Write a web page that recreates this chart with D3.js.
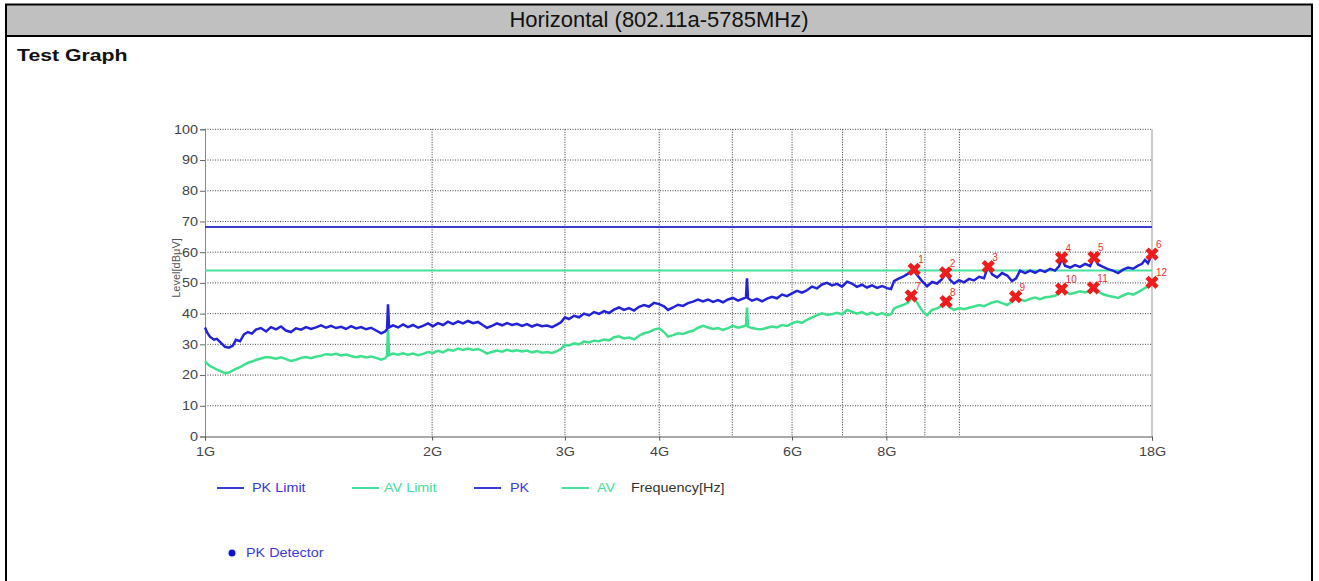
<!DOCTYPE html>
<html><head><meta charset="utf-8">
<script src="https://cdn.jsdelivr.net/npm/d3@7"></script>
<style>
html,body{margin:0;padding:0;background:#fff;}
svg{display:block;}
text{font-family:"Liberation Sans",Arial,sans-serif;}
</style></head>
<body>
<svg id="c" width="1319" height="581"></svg>
<script>
// ---- data (GHz, dBuV) ----
const freqs = [1.000,1.006,1.015,1.028,1.037,1.050,1.063,1.076,1.089,1.099,1.113,1.126,1.140,1.154,1.168,1.186,1.205,1.223,1.242,1.261,1.280,1.300,1.320,1.341,1.361,1.382,1.403,1.425,1.447,1.469,1.492,1.515,1.538,1.562,1.586,1.610,1.635,1.660,1.686,1.712,1.733,1.743,1.748,1.754,1.775,1.803,1.830,1.858,1.887,1.916,1.945,1.975,2.005,2.036,2.068,2.099,2.132,2.165,2.198,2.232,2.266,2.301,2.336,2.365,2.401,2.438,2.476,2.514,2.553,2.592,2.632,2.672,2.713,2.755,2.797,2.840,2.884,2.928,2.964,3.000,3.037,3.084,3.132,3.180,3.228,3.278,3.329,3.380,3.432,3.484,3.538,3.592,3.648,3.704,3.761,3.819,3.877,3.937,3.998,4.059,4.109,4.173,4.236,4.301,4.368,4.435,4.503,4.572,4.643,4.714,4.786,4.860,4.934,5.010,5.087,5.165,5.213,5.229,5.245,5.310,5.392,5.474,5.559,5.644,5.731,5.819,5.908,5.999,6.091,6.185,6.280,6.376,6.474,6.574,6.675,6.778,6.882,6.989,7.097,7.203,7.314,7.427,7.541,7.659,7.777,7.897,8.017,8.116,8.191,8.292,8.419,8.549,8.680,8.814,8.922,9.059,9.199,9.339,9.482,9.599,9.716,9.836,9.988,10.14,10.30,10.45,10.62,10.78,10.91,11.05,11.22,11.39,11.57,11.74,11.89,12.03,12.22,12.41,12.60,12.79,12.99,13.19,13.39,13.55,13.68,13.80,14.02,14.23,14.45,14.68,14.90,15.08,15.27,15.50,15.74,15.98,16.23,16.48,16.73,16.99,17.25,17.46,17.62,17.78,18.00];
const pk = [35.5,34.0,32.5,31.5,31.8,30.5,29.2,28.9,29.6,31.5,31.0,33.2,34.0,33.5,34.8,35.3,34.2,35.6,34.9,35.8,34.5,34.0,35.2,34.8,35.6,35.0,35.5,36.2,35.4,36.0,35.3,35.7,35.0,35.9,35.2,35.6,34.9,35.4,34.5,33.6,34.2,35.0,43.0,35.5,36.2,35.5,36.5,35.6,36.3,35.4,36.0,36.8,35.9,36.9,36.3,37.4,36.6,37.5,36.8,37.6,36.9,37.3,36.2,35.4,36.0,36.8,36.2,36.9,36.3,36.7,36.0,36.6,35.8,36.4,35.9,36.1,35.6,36.4,37.2,38.8,38.2,39.3,38.8,40.0,39.4,40.5,39.9,40.8,40.2,41.3,42.0,41.2,41.8,41.0,42.2,42.8,42.3,43.5,43.1,42.4,41.2,42.0,42.9,42.5,43.4,43.9,44.6,44.0,44.6,43.8,44.4,43.7,44.6,45.1,44.2,44.9,45.3,51.5,45.0,44.2,44.8,44.0,44.9,45.5,45.0,46.2,45.7,46.6,47.4,46.8,47.6,48.8,48.2,49.5,50.0,49.2,49.7,48.8,50.4,49.8,48.7,49.4,48.5,49.2,48.4,49.0,48.3,48.0,50.6,51.3,52.0,53.0,54.4,52.2,50.6,48.9,50.3,49.8,51.2,53.3,51.0,49.8,50.9,50.2,51.3,50.8,52.0,51.5,55.3,52.8,51.8,53.2,52.4,50.6,51.5,54.0,53.2,54.0,53.3,54.2,53.6,54.6,54.0,55.4,58.0,55.6,55.0,55.8,55.2,56.2,55.5,58.3,56.0,55.2,54.5,54.0,53.2,54.3,55.0,54.6,55.6,56.2,57.5,56.4,59.4];
const av = [24.5,23.8,23.0,22.3,21.8,21.2,20.6,20.8,21.5,22.0,22.6,23.3,24.0,24.4,24.9,25.4,25.9,25.7,25.3,25.8,25.2,24.6,25.0,25.6,25.9,25.5,26.0,26.3,26.8,26.6,26.9,26.4,26.7,26.2,25.8,26.2,25.7,26.0,25.6,25.0,25.5,26.3,34.7,26.5,27.0,26.6,27.1,26.6,27.0,26.5,26.9,27.5,27.2,27.9,27.4,28.3,27.9,28.6,28.2,28.6,28.2,28.5,27.8,27.0,27.5,28.0,27.6,28.2,27.8,28.1,27.7,28.0,27.4,27.8,27.3,27.5,27.2,27.8,28.5,29.8,29.6,30.3,30.0,30.9,30.6,31.2,31.0,31.6,31.3,32.3,32.6,31.9,32.2,31.6,32.8,33.6,34.0,34.8,35.2,34.0,32.5,33.0,33.6,33.4,34.0,34.4,35.4,36.0,35.5,35.0,35.3,34.7,35.3,36.0,35.4,35.8,36.2,42.0,35.8,35.3,35.0,34.9,35.4,35.8,35.5,36.3,36.0,36.8,37.4,37.0,38.0,38.8,39.5,40.1,39.6,39.8,40.3,39.8,41.2,40.6,40.0,40.5,39.7,40.3,39.6,40.2,39.5,39.8,41.7,42.3,42.8,43.6,45.8,43.0,41.0,39.5,41.2,41.7,42.6,43.9,42.0,41.2,41.8,41.4,41.9,42.3,42.8,42.4,43.0,43.6,44.0,43.4,42.8,43.9,45.5,44.6,44.1,44.8,45.2,44.7,45.3,45.5,45.8,46.5,48.0,47.0,46.4,46.8,47.3,46.9,47.4,48.4,47.2,46.3,45.8,45.5,45.1,45.9,46.6,46.2,47.0,47.7,48.4,48.8,50.2];
const pkLimit = 68.2;
const avLimit = 54.0;
const markerFreq  = [8.71,9.59,10.92,13.66,15.08,18.0,8.63,9.60,11.87,13.66,15.05,18.0];
const markerLevel = [54.4,53.3,55.3,58.2,58.3,59.4,45.8,43.9,45.5,48.0,48.4,50.2];
const markerLabel = ["1","2","3","4","5","6","7","8","9","10","11","12"];
const xTickVals = [1,2,3,4,6,8,18];
const xTickLabels = ["1G","2G","3G","4G","6G","8G","18G"];
const xGridVals = [2,3,4,5,6,7,8,9,10];
const yTicks = [0,10,20,30,40,50,60,70,80,90,100];
const legendNames = ["PK Limit","AV Limit","PK","AV"];
const legendColors = ["#3b3bd6","#44e0a0","#3b3bd6","#44e0a0"];

// ---- drawing ----
const svg = d3.select("#c");
const H = 581;
const SX = 1.2; // horizontal stretch of the reference lettering

// frame and title bar
svg.append("rect").attr("x",5).attr("y",4).attr("width",1307).attr("height",31).attr("fill","#c0c0c0");
svg.append("line").attr("x1",6).attr("x2",6).attr("y1",4).attr("y2",H).attr("stroke","#000").attr("stroke-width",2);
svg.append("line").attr("x1",1312).attr("x2",1312).attr("y1",4).attr("y2",H).attr("stroke","#000").attr("stroke-width",2);
svg.append("line").attr("x1",5).attr("x2",1313).attr("y1",4.5).attr("y2",4.5).attr("stroke","#000").attr("stroke-width",2);
svg.append("line").attr("x1",5).attr("x2",1313).attr("y1",36).attr("y2",36).attr("stroke","#000").attr("stroke-width",2);
svg.append("text").attr("x",659).attr("y",27).attr("text-anchor","middle")
  .style("font-size","22px").attr("fill","#111")
  .text("Horizontal (802.11a-5785MHz)");
svg.append("text").attr("transform","translate(17,61) scale(1.25,1)")
  .style("font-size","17px").style("font-weight","bold").attr("fill","#111")
  .text("Test Graph");

const x = d3.scaleLog().domain([1,18]).range([205,1152]);
const y = d3.scaleLinear().domain([0,100]).range([436.5,129.3]);

const g = svg.append("g");
// horizontal grid
g.selectAll(".hg").data(yTicks.filter(v=>v>0)).enter().append("line")
  .attr("x1",x(1)).attr("x2",x(18)).attr("y1",d=>y(d)).attr("y2",d=>y(d))
  .attr("stroke","#444").attr("stroke-width",1).attr("stroke-dasharray","1,1.5");
// vertical grid
g.selectAll(".vg").data(xGridVals).enter().append("line")
  .attr("x1",d=>x(d)).attr("x2",d=>x(d)).attr("y1",y(100)).attr("y2",y(0))
  .attr("stroke","#333").attr("stroke-width",1).attr("stroke-dasharray","1,1.5");
g.append("line").attr("x1",x(18)).attr("x2",x(18)).attr("y1",y(100)).attr("y2",y(0)).attr("stroke","#999");

// axes
const yAxis = d3.axisLeft(y).tickValues(yTicks).tickSize(5).tickPadding(2);
const yg = svg.append("g").attr("transform",`translate(${x(1)},0)`).call(yAxis);
yg.select(".domain").attr("stroke","#888");
yg.selectAll(".tick line").attr("stroke","#666");
yg.selectAll(".tick text").attr("fill","#444").style("font-size","12px")
  .attr("x",-7/SX).attr("transform",`scale(${SX},1)`);

const xAxis = d3.axisBottom(x).tickValues(xTickVals).tickFormat((d,i)=>xTickLabels[i]).tickSize(4).tickPadding(7);
const xg = svg.append("g").attr("transform",`translate(0,${y(0)})`).call(xAxis);
xg.select(".domain").attr("stroke","#555");
xg.selectAll(".tick line").attr("stroke","#555");
xg.selectAll(".tick text").attr("fill","#444").style("font-size","12px").attr("transform",`scale(${SX},1)`);

svg.append("text").attr("transform",`translate(180,268) rotate(-90)`).attr("text-anchor","middle")
  .attr("fill","#555").style("font-size","11px").text("Level[dBμV]");

// limit lines
svg.append("line").attr("x1",x(1)).attr("x2",x(18)).attr("y1",y(pkLimit)).attr("y2",y(pkLimit)).attr("stroke","#3b3bd6").attr("stroke-width",2);
svg.append("line").attr("x1",x(1)).attr("x2",x(18)).attr("y1",y(avLimit)).attr("y2",y(avLimit)).attr("stroke","#44e0a0").attr("stroke-width",2);

// traces
const line = d3.line().x(d=>x(d[0])).y(d=>y(d[1]));
svg.append("path").datum(freqs.map((f,i)=>[f,av[i]])).attr("d",line).attr("fill","none").attr("stroke","#3ee08e").attr("stroke-width",2.5);
svg.append("path").datum(freqs.map((f,i)=>[f,pk[i]])).attr("d",line).attr("fill","none").attr("stroke","#2222d8").attr("stroke-width",2.5);

// markers
const sym = d3.symbol().type(d3.symbolCross).size(110);
const mk = svg.append("g");
markerFreq.forEach((f,i)=>{
  mk.append("path").attr("d",sym()).attr("transform",`translate(${x(f)},${y(markerLevel[i])}) rotate(45)`).attr("fill","#ee1c1c");
  mk.append("text").attr("x",x(f)+4).attr("y",y(markerLevel[i])-6).attr("fill","#e83030").style("font-size","10px").text(markerLabel[i]);
});

// legend
const legX = [217,352,474,562];
const legT = [252,384,510,597];
legendNames.forEach((name,i)=>{
  svg.append("line").attr("x1",legX[i]).attr("x2",legX[i]+27).attr("y1",488).attr("y2",488).attr("stroke",legendColors[i]).attr("stroke-width",2);
  svg.append("text").attr("transform",`translate(${legT[i]},492) scale(${SX},1)`).attr("fill",legendColors[i]).style("font-size","12px").text(name);
});
svg.append("text").attr("transform",`translate(631,492) scale(${SX},1)`).attr("fill","#333").style("font-size","12px").text("Frequency[Hz]");
svg.append("circle").attr("cx",232).attr("cy",553).attr("r",3.5).attr("fill","#1010d0");
svg.append("text").attr("transform",`translate(246,557) scale(${SX},1)`).attr("fill","#3b3bd6").style("font-size","12px").text("PK Detector");
</script>
</body></html>
